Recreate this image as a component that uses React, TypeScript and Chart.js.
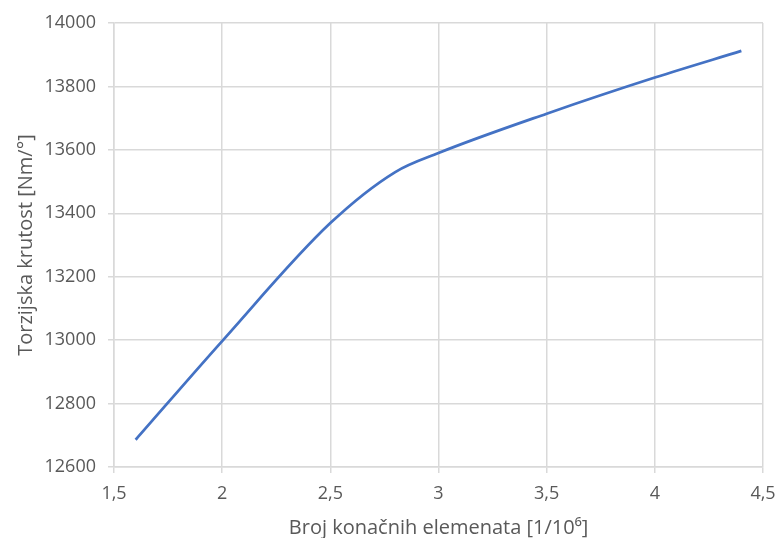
import React, { useEffect, useRef } from "react";
import { Chart, registerables } from "chart.js";

Chart.register(...registerables);

const xValues = [1.6, 2.0, 2.5, 2.8, 3.0, 3.5, 4.0, 4.4];
const stiffness = [12686, 12997, 13369, 13530, 13590, 13714, 13828, 13912];
const xTitle = "Broj konačnih elemenata [1/10⁶]";
const yTitle = "Torzijska krutost [Nm/°]";

const FONT = "'Open Sans', 'Liberation Sans', sans-serif";
const TEXT = "#595959";
const GRID = "#d9d9d9";

export default function App() {
  const ref = useRef<HTMLCanvasElement | null>(null);
  useEffect(() => {
    if (!ref.current) return;
    const chart = new Chart(ref.current, {
      type: "line",
      data: {
        datasets: [
          {
            data: xValues.map((x, i) => ({ x, y: stiffness[i] })),
            borderColor: "#4472c4",
            borderWidth: 2.75,
            pointRadius: 0,
            tension: 0.4,
            cubicInterpolationMode: "monotone",
            fill: false,
          },
        ],
      },
      options: {
        responsive: false,
        animation: false,
        layout: { padding: { left: 0, right: 16, top: 23, bottom: 0 } },
        plugins: { legend: { display: false }, tooltip: { enabled: false } },
        scales: {
          x: {
            type: "linear",
            min: 1.5,
            max: 4.5,
            ticks: {
              stepSize: 0.5,
              color: TEXT,
              font: { family: FONT, size: 18 },
              padding: 10,
              callback: (v: any) => String(v).replace(".", ","),
            },
            grid: { color: GRID, lineWidth: 1.5, tickLength: 6 },
            border: { color: GRID, width: 1.5 },
            title: {
              display: true,
              text: xTitle,
              color: TEXT,
              font: { family: FONT, size: 20, lineHeight: 1 },
              padding: { top: 0, bottom: 0 },
            },
            afterFit: (s: any) => {
              s.height = 538 - 467;
              s.paddingRight = 0;
              s.paddingLeft = 0;
            },
          },
          y: {
            min: 12600,
            max: 14000,
            ticks: {
              stepSize: 200,
              color: TEXT,
              font: { family: FONT, size: 18 },
              padding: 12,
              callback: (v: any) => String(v),
            },
            grid: { color: GRID, lineWidth: 1.5, tickLength: 6 },
            border: { color: GRID, width: 1.5 },
            title: {
              display: true,
              text: yTitle,
              color: TEXT,
              font: { family: FONT, size: 20 },
              padding: { top: 14, bottom: 0 },
            },
            afterFit: (s: any) => {
              s.width = 114;
              s.paddingTop = 0;
              s.paddingBottom = 0;
            },
          },
        },
      },
    });
    return () => chart.destroy();
  }, []);
  return (
    <div style={{ position: "absolute", left: 0, top: 0, width: 779, height: 538, background: "#fff" }}>
      <canvas ref={ref} width={779} height={538} style={{ display: "block" }} />
    </div>
  );
}
